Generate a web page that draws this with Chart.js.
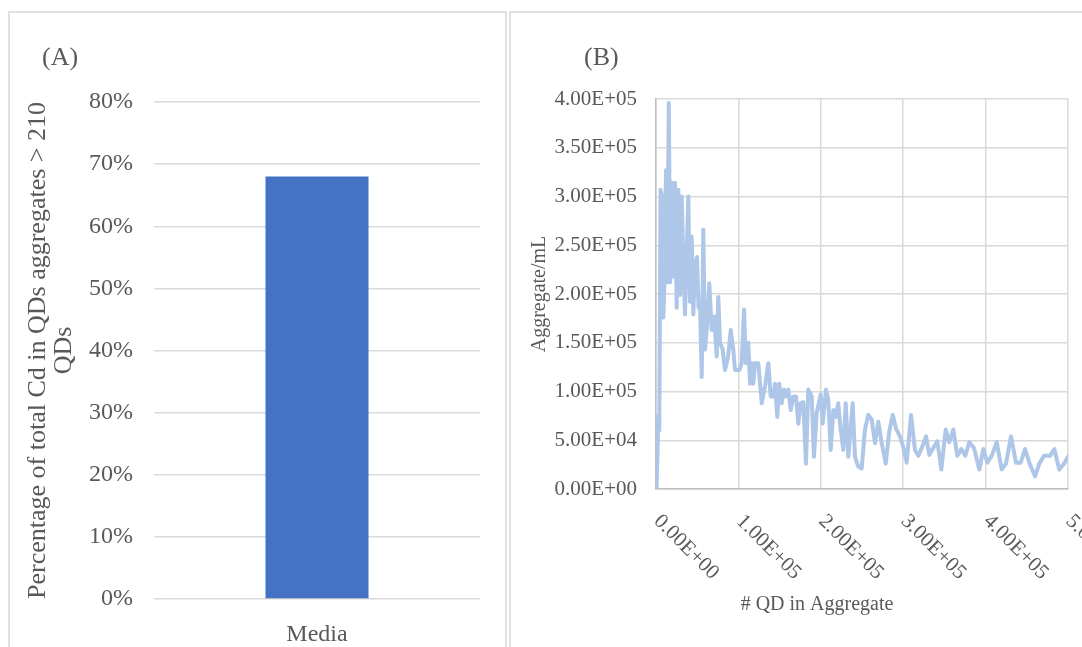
<!DOCTYPE html>
<html>
<head>
<meta charset="utf-8">
<script src="https://cdn.jsdelivr.net/npm/chart.js@4.4.1/dist/chart.umd.min.js"></script>
<style>
  html, body { margin: 0; padding: 0; background: #ffffff; overflow: hidden; width: 1082px; height: 647px; }
  .frame { position: absolute; border: 2px solid #e1e1e1; box-sizing: border-box; }
  canvas { position: absolute; }
</style>
</head>
<body>
<div class="frame" style="left:8px; top:11px; width:499px; height:700px;"></div>
<div class="frame" style="left:509px; top:11px; width:700px; height:700px;"></div>
<canvas id="chartA" width="498" height="636" style="left:8px; top:11px;"></canvas>
<canvas id="chartB" width="573" height="636" style="left:509px; top:11px;"></canvas>
<script>
// ---------- Panel A data ----------
const aCategories = ['Media'];
const aPercentValues = [68];
const aTicks = [0, 10, 20, 30, 40, 50, 60, 70, 80];
const aPanelLabel = '(A)';
const aAxisTitle = ['Percentage of total Cd in QDs aggregates > 210', 'QDs'];

// ---------- Panel B data ----------
const bPanelLabel = '(B)';
const bXTitle = '# QD in Aggregate';
const bYTitle = 'Aggregate/mL';
const bXTicks = [0, 100000, 200000, 300000, 400000, 500000];
const bYTicks = [0, 50000, 100000, 150000, 200000, 250000, 300000, 350000, 400000];
const bQdCounts = [
  600, 1800, 2800, 4000, 5500, 7300, 8900, 10300, 12100, 13700,
  15500, 17200, 19100, 20900, 23100, 25100, 27100, 29100, 31200, 33100,
  35200, 37000, 39200, 41300, 43300, 45300, 47300, 49800, 51600, 53400,
  55500, 57400, 59500, 61900, 64700, 67600, 70400, 73700, 75600, 77700,
  80900, 83700, 87400, 90700, 93800, 95900, 101100, 104000, 106800, 109200,
  112000, 114100, 116100, 118100, 120100, 124200, 128300, 132300, 136300, 139200,
  142400, 144400, 147200, 149600, 152600, 155300, 157800, 160600, 163500, 166600,
  169900, 172700, 175600, 178800, 182000, 184800, 189000, 191700, 195000, 199900,
  202300, 206300, 209100, 212000, 215200, 218100, 221200, 223300, 227300, 230200,
  233400, 238700, 241500, 245500, 249600, 253600, 257600, 261800, 265800, 269800,
  273900, 278800, 283100, 287300, 291300, 296100, 300100, 304200, 309500, 314300,
  318300, 322500, 327700, 331700, 336500, 341400, 346200, 351600, 355900, 360800,
  365700, 370500, 375400, 380200, 385900, 392400, 397200, 402100, 407400, 413500,
  419500, 424800, 430800, 436900, 442600, 447800, 453900, 460000, 465200, 470900,
  478200, 483400, 489400, 495100, 500000
];
const bAggregates = [
  0, 35000, 75000, 60000, 307000, 300000, 176000, 212000, 327000, 212000,
  396000, 212000, 314000, 218000, 314000, 186000, 307000, 199000, 300000, 233000,
  179000, 233000, 300000, 192000, 259000, 179000, 230000, 238000, 186000, 190000,
  115000, 266000, 143000, 167000, 211000, 163000, 177000, 136000, 197000, 150000,
  143000, 122000, 135000, 163000, 143000, 122000, 122000, 129000, 184000, 129000,
  150000, 108000, 129000, 108000, 129000, 129000, 88000, 105000, 129000, 95000,
  95000, 108000, 74000, 108000, 88000, 102000, 95000, 102000, 81000, 95000,
  95000, 67000, 88000, 89000, 26000, 102000, 95000, 33000, 78000, 97000,
  67000, 102000, 91000, 40000, 81000, 74000, 88000, 67000, 40000, 88000,
  33000, 88000, 33000, 23000, 21000, 61000, 76000, 71000, 47000, 69000,
  47000, 26000, 59000, 76000, 62000, 54000, 43000, 27000, 76000, 40000,
  34000, 42000, 54000, 35000, 42000, 49000, 20000, 61000, 48000, 61000,
  34000, 41000, 34000, 48000, 42000, 20000, 41000, 27000, 34000, 48000,
  20000, 26000, 54000, 27000, 27000, 41000, 25000, 13000, 26000, 34000,
  34000, 41000, 20000, 26000, 33000
];

const TEXT = '#595959';
const GRID = '#d9d9d9';
const SERIF = '"Liberation Serif", "Times New Roman", serif';

function sci(v) {
  const parts = Number(v).toExponential(2).toUpperCase().split('E');
  const sign = parts[1][0];
  const digits = parts[1].slice(1).padStart(2, '0');
  return parts[0] + 'E' + sign + digits;
}

// ---------- Panel A ----------
const aOverlay = {
  id: 'aOverlay',
  afterDraw(chart) {
    const ctx = chart.ctx;
    ctx.save();
    ctx.fillStyle = TEXT;
    ctx.font = '26px ' + SERIF;
    ctx.textAlign = 'left';
    ctx.textBaseline = 'middle';
    ctx.fillText(aPanelLabel, 34, 47);
    ctx.restore();
  }
};

new Chart(document.getElementById('chartA'), {
  type: 'bar',
  data: {
    labels: aCategories,
    datasets: [{
      data: aPercentValues,
      backgroundColor: '#4472c4',
      borderWidth: 0,
      categoryPercentage: 1,
      barPercentage: 0.316
    }]
  },
  options: {
    responsive: false,
    animation: false,
    devicePixelRatio: 1,
    layout: { padding: { left: 17, right: 26, top: 91, bottom: 0 } },
    plugins: { legend: { display: false }, title: { display: false }, tooltip: { enabled: false } },
    scales: {
      x: {
        grid: { display: false, drawTicks: false },
        border: { display: false },
        ticks: { color: TEXT, font: { family: SERIF, size: 24 }, padding: 21 },
        afterFit(scale) { scale.height = 48; }
      },
      y: {
        min: 0, max: 80,
        afterBuildTicks(scale) { scale.ticks = aTicks.map(v => ({ value: v })); },
        grid: { color: GRID, lineWidth: 1.5, drawTicks: false },
        border: { display: false },
        ticks: { color: TEXT, font: { family: SERIF, size: 24 }, padding: 21, callback: v => v + '%' },
        title: { display: true, text: aAxisTitle, color: TEXT, font: { family: SERIF, size: 26, lineHeight: 1 }, padding: 0 },
        afterFit(scale) { scale.width = 129; }
      }
    }
  },
  plugins: [aOverlay]
});

// ---------- Panel B ----------
const bOverlay = {
  id: 'bOverlay',
  afterDraw(chart) {
    const ctx = chart.ctx;
    const xs = chart.scales.x;
    ctx.save();
    ctx.fillStyle = TEXT;
    ctx.font = '26px ' + SERIF;
    ctx.textAlign = 'left';
    ctx.textBaseline = 'middle';
    ctx.fillText(bPanelLabel, 75, 47);
    ctx.font = '21px ' + SERIF;
    xs.ticks.forEach(t => {
      const px = xs.getPixelForValue(t.value);
      ctx.save();
      ctx.translate(px + 1, xs.top + 29);
      ctx.rotate(Math.PI / 4);
      ctx.fillText(sci(t.value), 0, 0);
      ctx.restore();
    });
    ctx.font = '20px ' + SERIF;
    ctx.textAlign = 'center';
    ctx.fillText(bXTitle, chart.chartArea.left + 161, 594);
    ctx.restore();
  }
};

new Chart(document.getElementById('chartB'), {
  type: 'scatter',
  data: {
    datasets: [{
      data: bQdCounts.map((x, i) => ({ x: x, y: bAggregates[i] })),
      showLine: true,
      borderColor: '#aec6e8',
      borderWidth: 4,
      pointRadius: 0,
      tension: 0,
      borderJoinStyle: 'round',
      borderCapStyle: 'round'
    }]
  },
  options: {
    responsive: false,
    animation: false,
    devicePixelRatio: 1,
    layout: { padding: { left: 21, right: 14, top: 88, bottom: 0 } },
    plugins: { legend: { display: false }, title: { display: false }, tooltip: { enabled: false } },
    scales: {
      x: {
        type: 'linear',
        min: 0, max: 500000,
        afterBuildTicks(scale) { scale.ticks = bXTicks.map(v => ({ value: v })); },
        grid: { color: GRID, lineWidth: 1.5, drawTicks: false },
        border: { display: true, color: '#bfbfbf', width: 1.5 },
        ticks: { display: false },
        afterFit(scale) { scale.height = 158; scale.paddingLeft = 0; scale.paddingRight = 0; }
      },
      y: {
        min: 0, max: 400000,
        afterBuildTicks(scale) { scale.ticks = bYTicks.map(v => ({ value: v })); },
        grid: { color: GRID, lineWidth: 1.5, drawTicks: false },
        border: { display: true, color: '#bfbfbf', width: 1.5 },
        ticks: { color: TEXT, font: { family: SERIF, size: 21 }, padding: 19, callback: v => sci(v) },
        title: { display: true, text: bYTitle, color: TEXT, font: { family: SERIF, size: 20, lineHeight: 1 }, padding: 0 },
        afterFit(scale) { scale.width = 126; scale.paddingTop = 0; scale.paddingBottom = 0; }
      }
    }
  },
  plugins: [bOverlay]
});
</script>
</body>
</html>
